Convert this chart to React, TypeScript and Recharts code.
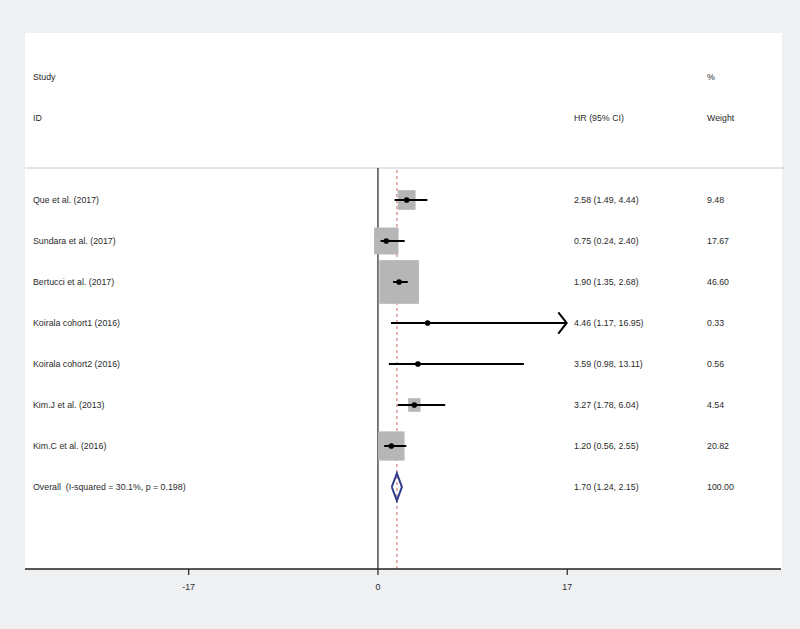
import { ScatterChart, Scatter, XAxis, YAxis, ReferenceLine, Customized } from 'recharts';

const studies = [
  'Que et al. (2017)',
  'Sundara et al. (2017)',
  'Bertucci et al. (2017)',
  'Koirala cohort1 (2016)',
  'Koirala cohort2 (2016)',
  'Kim.J et al. (2013)',
  'Kim.C et al. (2016)',
];
const hr = [2.58, 0.75, 1.9, 4.46, 3.59, 3.27, 1.2];
const lower = [1.49, 0.24, 1.35, 1.17, 0.98, 1.78, 0.56];
const upper = [4.44, 2.4, 2.68, 16.95, 13.11, 6.04, 2.55];
const weights = [9.48, 17.67, 46.6, 0.33, 0.56, 4.54, 20.82];

const overallLabel = 'Overall  (I-squared = 30.1%, p = 0.198)';
const overallHr = 1.7;
const overallLower = 1.24;
const overallUpper = 2.15;
const overallWeight = 100.0;

const xTicks = [-17, 0, 17];
// rows whose CI runs off and gets an arrow head
const arrowRows = [3];

const fmt = (v: number) => v.toFixed(2);
const ciText = (h: number, l: number, u: number) => `${fmt(h)} (${fmt(l)}, ${fmt(u)})`;

const studyRows = studies.map((s, i) => ({ x: hr[i], y: i, weight: weights[i] }));
const overallRow = studies.length;

const textRows = [
  ...studies.map((s, i) => ({
    x: 0,
    y: i,
    label: s,
    hrText: ciText(hr[i], lower[i], upper[i]),
    wText: fmt(weights[i]),
  })),
  {
    x: 0,
    y: overallRow,
    label: overallLabel,
    hrText: ciText(overallHr, overallLower, overallUpper),
    wText: fmt(overallWeight),
  },
];

const diamond = [
  { x: overallLower, y: overallRow },
  { x: overallHr, y: overallRow - 0.33 },
  { x: overallUpper, y: overallRow },
  { x: overallHr, y: overallRow + 0.33 },
  { x: overallLower, y: overallRow },
];

const FONT = '"Liberation Sans", Arial, sans-serif';
const TXT = '#2a2a2a';

const Box = (p: any) => {
  const s = Math.sqrt(p.payload.weight);
  const w = s * 5.8;
  const h = s * 6.4;
  return <rect x={p.cx - w / 2} y={p.cy - h / 2} width={w} height={h} fill="#b6b6b6" />;
};

const Dot = (p: any) => <circle cx={p.cx} cy={p.cy} r={2.8} fill="#000" />;

const NoPoint = () => <g />;

// keep double spaces visible in svg text
const keepSpaces = (t: string) => t.replace(/  /g, ' \u00a0');

const RowText = (p: any) => (
  <g fontSize={8.8} fill={TXT} fontFamily={FONT}>
    <text x={33} y={p.cy} dominantBaseline="central">{keepSpaces(p.payload.label)}</text>
    <text x={574} y={p.cy} dominantBaseline="central">{p.payload.hrText}</text>
    <text x={707} y={p.cy} dominantBaseline="central">{p.payload.wText}</text>
  </g>
);

const Header = () => (
  <g fontSize={8.8} fill={TXT} fontFamily={FONT}>
    <text x={33} y={77} dominantBaseline="central">Study</text>
    <text x={33} y={118} dominantBaseline="central">ID</text>
    <text x={574} y={118} dominantBaseline="central">HR (95% CI)</text>
    <text x={707} y={77} dominantBaseline="central">%</text>
    <text x={707} y={118} dominantBaseline="central">Weight</text>
    <line x1={25} x2={785} y1={168} y2={168} stroke="#bccbd8" strokeWidth={1} />
  </g>
);

export default function App() {
  return (
    <div style={{ position: 'absolute', left: 0, top: 0, width: 800, height: 629, background: '#eef0f2' }}>
      <div style={{ position: 'absolute', left: 25, top: 33, width: 757, height: 536, background: '#fff' }} />
      <div style={{ position: 'absolute', left: 0, top: 0 }}>
        <ScatterChart width={800} height={629} margin={{ top: 168, right: 19, bottom: 30, left: 25 }}>
          <XAxis
            type="number"
            dataKey="x"
            domain={[-31.7, 36.2]}
            ticks={xTicks}
            allowDataOverflow
            height={30}
            tickSize={6}
            tickMargin={9}
            axisLine={{ stroke: '#222', strokeWidth: 1.5 }}
            tickLine={{ stroke: '#222', strokeWidth: 1.2 }}
            tick={{ fontSize: 8.8, fill: TXT, fontFamily: FONT }}
          />
          <YAxis type="number" dataKey="y" domain={[-0.78, 9.0]} reversed hide allowDataOverflow />
          <ReferenceLine x={0} stroke="#222" strokeWidth={1.2} />
          <ReferenceLine x={overallHr} stroke="#dc9a94" strokeWidth={1.5} strokeDasharray="3 3" />
          <Scatter data={studyRows} shape={Box} isAnimationActive={false} />
          {studies.map((s, i) => (
            <Scatter
              key={s}
              data={[
                { x: lower[i], y: i },
                { x: upper[i], y: i },
              ]}
              line={{ stroke: '#000', strokeWidth: 2 }}
              shape={NoPoint}
              isAnimationActive={false}
            />
          ))}
          {arrowRows.map((i) => (
            <Scatter
              key={'arrow' + i}
              data={[
                { x: upper[i] - 0.75, y: i - 0.26 },
                { x: upper[i], y: i },
                { x: upper[i] - 0.75, y: i + 0.26 },
              ]}
              line={{ stroke: '#000', strokeWidth: 2 }}
              shape={NoPoint}
              isAnimationActive={false}
            />
          ))}
          <Scatter data={studyRows} shape={Dot} isAnimationActive={false} />
          <Scatter
            data={diamond}
            line={{ stroke: '#2d3a8c', strokeWidth: 2 }}
            shape={NoPoint}
            isAnimationActive={false}
          />
          <Scatter data={textRows} shape={RowText} isAnimationActive={false} />
          <Customized component={<Header />} />
        </ScatterChart>
      </div>
    </div>
  );
}
